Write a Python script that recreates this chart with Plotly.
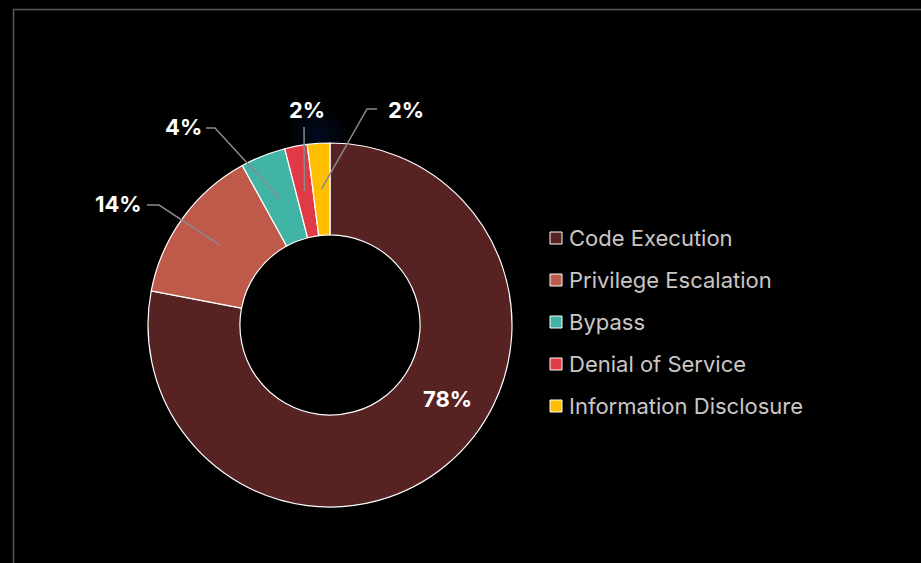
import math
import plotly.graph_objects as go

# Vulnerability categories and their share of reported issues (%)
categories = ["Code Execution", "Privilege Escalation", "Bypass",
              "Denial of Service", "Information Disclosure"]
shares = [78, 14, 4, 2, 2]
colors = ["#572322", "#bf5a4b", "#41b4a5", "#e03a46", "#ffbf00"]

W, H = 921, 563
CX, CY = 330, 325          # donut centre (px)
R_OUT = 182                # outer radius (px)
HOLE = 0.495


def px(x, y):
    """Pixel position -> paper coordinates."""
    return x / W, 1 - y / H


# Label placement: inside label for the big slice, elbow leader lines for the rest
label_layout = [
    dict(kind="inside", pos=(447, 399)),
    dict(kind="outside", elbow=(159, 205), end=(147, 205), text=(144, 204), anchor="right"),
    dict(kind="outside", elbow=(215, 128), end=(206, 128), text=(204, 127), anchor="right"),
    dict(kind="outside", elbow=(304, 127), end=(304, 127), text=(307, 110), anchor="center"),
    dict(kind="outside", elbow=(367, 109), end=(377, 109), text=(386, 110), anchor="left"),
]

fig = go.Figure()

x0, y0 = px(CX - R_OUT, CY + R_OUT)
x1, y1 = px(CX + R_OUT, CY - R_OUT)
fig.add_trace(go.Pie(
    labels=categories,
    values=shares,
    hole=HOLE,
    sort=False,
    direction="clockwise",
    rotation=0,
    marker=dict(colors=colors, line=dict(color="#ffffff", width=1.2)),
    textinfo="none",
    showlegend=False,
    domain=dict(x=[x0, x1], y=[y0, y1]),
    automargin=False,
))

shapes = []
annotations = []

# Soft glow behind the top of the ring
for r in range(30, 2, -3):
    gx0, gy0 = px(318 - r, 136 + r)
    gx1, gy1 = px(318 + r, 136 - r)
    shapes.append(dict(type="circle", xref="paper", yref="paper", layer="below",
                       x0=gx0, y0=gy0, x1=gx1, y1=gy1,
                       fillcolor="rgba(60,100,160,0.022)", line=dict(width=0)))

# Outer frame
fx0, fy1 = px(13.5, 9.5)
shapes.append(dict(type="rect", xref="paper", yref="paper",
                   x0=fx0, y0=-0.1, x1=1.1, y1=fy1,
                   line=dict(color="#5a5a5a", width=1.5), fillcolor="rgba(0,0,0,0)"))

total = sum(shares)
r_mid = R_OUT * (1 + HOLE) / 2
cum = 0
for val, lay in zip(shares, label_layout):
    mid = (cum + val / 2) / total * 2 * math.pi
    cum += val
    txt = f"{round(val / total * 100)}%"
    font = dict(family="Inter", size=22, color="#ffffff", weight="bold")
    if lay["kind"] == "inside":
        ax, ay = px(*lay["pos"])
        annotations.append(dict(x=ax, y=ay, xref="paper", yref="paper", text=txt,
                                showarrow=False, font=font,
                                xanchor="center", yanchor="middle"))
        continue
    sx = CX + r_mid * math.sin(mid)
    sy = CY - r_mid * math.cos(mid)
    pts = [px(sx, sy), px(*lay["elbow"]), px(*lay["end"])]
    path = "M {} {} L {} {} L {} {}".format(*[c for p in pts for c in p])
    shapes.append(dict(type="path", xref="paper", yref="paper", path=path,
                       line=dict(color="#8a8a8a", width=1.5)))
    tx, ty = px(*lay["text"])
    annotations.append(dict(x=tx, y=ty, xref="paper", yref="paper", text=txt,
                            showarrow=False, font=font,
                            xanchor=lay["anchor"], yanchor="middle"))

# Legend drawn as swatches + labels
LEG_X, LEG_Y, LEG_STEP, SW = 550, 238, 42, 12
for i, (name, col) in enumerate(zip(categories, colors)):
    cy = LEG_Y + i * LEG_STEP
    sx0, sy0 = px(LEG_X, cy + SW / 2)
    sx1, sy1 = px(LEG_X + SW, cy - SW / 2)
    shapes.append(dict(type="rect", xref="paper", yref="paper",
                       x0=sx0, y0=sy0, x1=sx1, y1=sy1,
                       fillcolor=col, line=dict(color="#ffffff", width=1)))
    lx, ly = px(LEG_X + SW + 5, cy)
    annotations.append(dict(x=lx, y=ly, xref="paper", yref="paper", text=name,
                            showarrow=False, xanchor="left", yanchor="middle",
                            font=dict(family="Inter", size=22, color="#cbc6c6")))

fig.update_layout(
    width=W, height=H,
    margin=dict(l=0, r=0, t=0, b=0),
    paper_bgcolor="#000000",
    plot_bgcolor="#000000",
    shapes=shapes,
    annotations=annotations,
    showlegend=False,
)

fig.write_html("out.html")
